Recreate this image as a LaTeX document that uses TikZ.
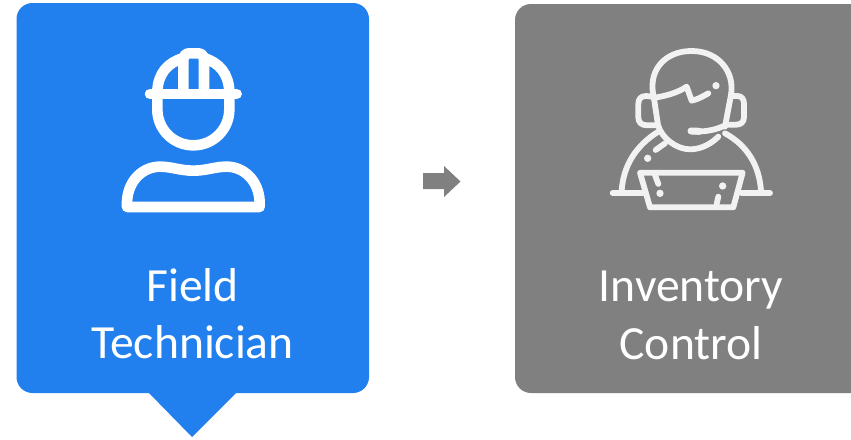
\documentclass[tikz,border=0pt]{standalone}
\usepackage{fontspec}
\setmainfont{Carlito}
\definecolor{bluebox}{HTML}{2280EE}
\definecolor{graybox}{HTML}{808080}
\definecolor{iconwhite}{HTML}{F2F2F2}
\tikzset{
  lbl/.style={anchor=base,inner sep=0pt,text=white,font=\fontsize{47.6}{47.6}\selectfont},
  wk/.style={draw=white,line width=10.6pt,line cap=round,line join=round},
  hs/.style={draw=iconwhite,line width=5.8pt,line cap=round,line join=round},
  dotf/.style={fill=iconwhite},
}
\begin{document}
\begin{tikzpicture}[x=1pt,y=-1pt]
\useasboundingbox (0,0) rectangle (851,439);
\fill[white] (0,0) rectangle (851,439);
% blue card
\fill[bluebox,rounded corners=16pt] (16.5,3) rectangle (369,393);
\fill[bluebox] (148,392) -- (192,437) -- (237,392) -- cycle;
% gray card (runs off the right edge)
\begin{scope}
\clip (0,0) rectangle (851,439);
\fill[graybox,rounded corners=16pt] (515,4) rectangle (900,393);
\end{scope}
% arrow
\fill[graybox] (423,173) -- (444,173) -- (444,166) -- (460.5,181.5) -- (444,197) -- (444,189) -- (423,189) -- cycle;
% worker icon
\begin{scope}[shift={(100,30)},x=0.3333pt,y=-0.3333pt]
\draw[wk] (150,192) -- (410,192);
\draw[wk] (172,185) .. controls (174,130) and (203,98) .. (250,84) -- (250,178);
\draw[wk] (388,185) .. controls (386,130) and (357,98) .. (312,84) -- (312,178);
\draw[wk] (250,84) .. controls (252,76) and (258,70) .. (268,70) -- (294,70) .. controls (304,70) and (310,76) .. (312,84);
\draw[wk] (172,192) -- (172,238) .. controls (172,298) and (220,346) .. (280,346) .. controls (340,346) and (388,298) .. (388,238) -- (388,192);
\draw[wk] (81,531) -- (81,515) .. controls (84,450) and (130,410) .. (180,410) .. controls (215,410) and (240,422) .. (280,422) .. controls (320,422) and (345,410) .. (380,410) .. controls (430,410) and (476,450) .. (479,515) -- (479,531) -- cycle;
\end{scope}
% headset icon
\begin{scope}[shift={(590,30)},x=0.3333pt,y=-0.3333pt]
\draw[hs] (190,195) .. controls (175,120) and (225,63) .. (305,63) .. controls (385,63) and (435,125) .. (423,195) -- (405,290);
\draw[hs] (192,205) -- (204,285) .. controls (215,325) and (260,358) .. (300,358) .. controls (335,358) and (365,340) .. (385,320);
\draw[hs] (190,204) .. controls (225,198) and (260,190) .. (290,170) -- (305,212) .. controls (325,208) and (340,198) .. (355,190);
\fill[dotf] (378,167) circle (11);
\draw[hs] (188,200) -- (168,198) .. controls (152,198) and (145,208) .. (145,222) -- (145,262) .. controls (145,278) and (155,286) .. (172,286) -- (198,286);
\draw[hs] (428,198) -- (442,198) .. controls (456,198) and (462,208) .. (462,222) -- (462,262) .. controls (462,276) and (452,284) .. (440,284) -- (410,284);
\draw[hs] (303,303) .. controls (340,308) and (380,300) .. (412,283);
\draw[hs,line width=7pt] (303,303) -- (328,304);
\draw[hs] (205,305) .. controls (140,345) and (100,405) .. (95,482);
\draw[hs] (405,310) .. controls (470,345) and (508,405) .. (513,482);
\draw[hs] (68,489) -- (158,489);
\draw[hs] (455,489) -- (540,489);
\draw[hs] (150,428) -- (458,428) -- (430,532) -- (180,532) -- cycle;
\draw[hs] (197,360) -- (225,340);
\fill[dotf] (173,385) circle (11);
\draw[hs] (195,435) -- (205,462);
\fill[dotf] (210,490) circle (11);
\fill[dotf] (398,468) circle (11);
\draw[hs] (385,500) -- (380,522);
\end{scope}
% labels
\node[lbl] (field) at (192.5,301) {Field};
\node[lbl] (tech) at (192.5,358.5) {Technician};
\node[lbl] (inv) at (691,301) {Inventory};
\node[lbl] (ctrl) at (691,359.5) {Control};
\end{tikzpicture}
\end{document}
